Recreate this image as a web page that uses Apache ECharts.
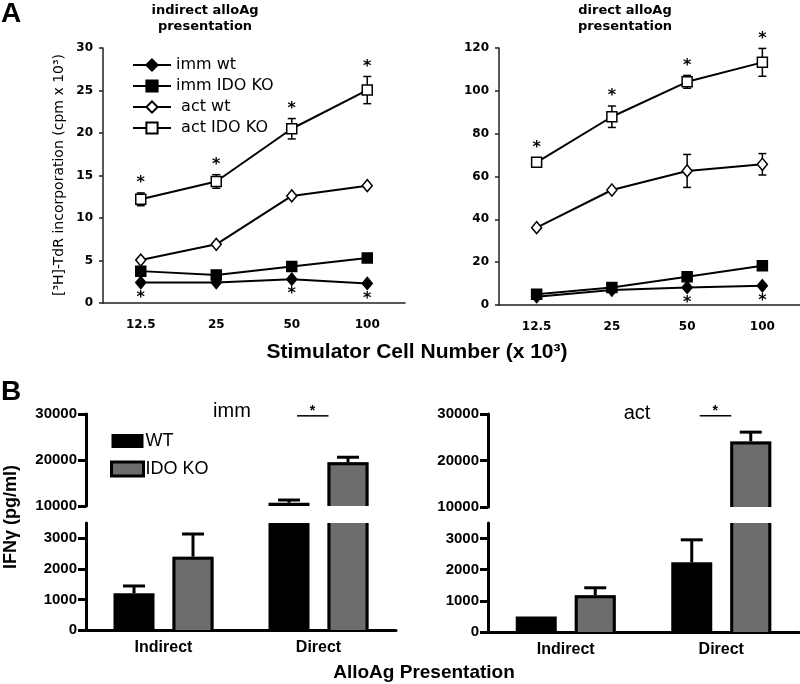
<!DOCTYPE html>
<html>
<head>
<meta charset="utf-8">
<script src="https://cdn.jsdelivr.net/npm/echarts@6.0.0/dist/echarts.min.js"></script>
<style>html,body{margin:0;padding:0;background:#fff}#c{width:800px;height:684px}</style>
</head>
<body>
<div id="c"></div>
<script>
// ---------- DATA ----------
var cellNumbers = ['12.5', '25', '50', '100'];
var seriesNames = ['imm wt', 'imm IDO KO', ' act wt', ' act IDO KO'];

// Panel A, indirect alloAg presentation (cpm x 10^3)
var indImmWt = [2.4, 2.4, 2.8, 2.3];
var indImmKO = [3.75, 3.3, 4.3, 5.3];
var indActWt = [5.05, 6.9, 12.6, 13.8];
var indActKO = [12.2, 14.3, 20.5, 25.05];
var indActKOErr = [0.75, 0.8, 1.2, 1.6];
var indStarTop = [1, 1, 1, 1];
var indStarBottom = [1, 0, 1, 1];

// Panel A, direct alloAg presentation
var dirImmWt = [3.9, 7.0, 8.2, 9.0];
var dirImmKO = [5.0, 8.2, 13.2, 18.3];
var dirActWt = [36.1, 53.7, 62.6, 65.7];
var dirActWtErr = [0, 0, 7.7, 5.0];
var dirActKO = [66.6, 87.9, 104.2, 113.3];
var dirActKOErr = [1.0, 5.0, 3.0, 6.5];
var dirStarTop = [1, 1, 1, 1];
var dirStarBottom = [0, 0, 1, 1];

// Panel B, IFN-gamma (pg/ml)
var presentation = ['Indirect', 'Direct'];
var immWT = [1200, 10700];
var immWTErr = [240, 600];
var immKO = [2400, 19500];
var immKOErr = [740, 1100];
var actWT = [500, 2240];
var actWTErr = [0, 720];
var actKO = [1180, 24100];
var actKOErr = [240, 2000];
var sigBracket = [1]; // index of category with significance bar

// ---------- HELPERS ----------
function triples(v, e) { return v.map(function (x, i) { return [i, x, e ? e[i] : 0]; }); }
function stars(v, e, flags, dir) {
  var out = [];
  flags.forEach(function (f, i) { if (f) out.push([i, v[i], e ? e[i] : 0, dir]); });
  return out;
}
var BLACK = '#000';
var GRAY = '#6d6d6d';
var SANS = '"Liberation Sans", Arial, sans-serif';
var DV = '"DejaVu Sans", Verdana, sans-serif';

function barItem(sign, fill, bordered) {
  return function (params, api) {
    var cat = api.value(0), val = api.value(1), err = api.value(2);
    var cs = params.coordSys;
    var base = api.coord([cat, 0]), top = api.coord([cat, val]);
    var bw = 41, cx = base[0] + sign * 29.5;
    var x0 = cx - bw / 2, x1 = cx + bw / 2;
    var yt = Math.max(top[1], cs.y), yb = Math.min(base[1], cs.y + cs.height);
    var kids = [];
    if (yb > yt) {
      kids.push({ type: 'rect', shape: { x: x0, y: yt, width: bw, height: yb - yt }, style: { fill: fill } });
      if (bordered) {
        var h = 1.5;
        if (top[1] >= cs.y) {
          kids.push({ type: 'polyline', shape: { points: [[x0 + h, yb], [x0 + h, yt + h], [x1 - h, yt + h], [x1 - h, yb]] },
            style: { stroke: BLACK, lineWidth: 3, fill: null } });
        } else {
          kids.push({ type: 'line', shape: { x1: x0 + h, y1: yt, x2: x0 + h, y2: yb }, style: { stroke: BLACK, lineWidth: 3 } });
          kids.push({ type: 'line', shape: { x1: x1 - h, y1: yt, x2: x1 - h, y2: yb }, style: { stroke: BLACK, lineWidth: 3 } });
        }
      }
    }
    if (err > 0 && top[1] >= cs.y && top[1] <= cs.y + cs.height) {
      var e = api.coord([cat, val + err]);
      kids.push({ type: 'line', shape: { x1: cx, y1: top[1], x2: cx, y2: e[1] }, style: { stroke: BLACK, lineWidth: 3 } });
      kids.push({ type: 'line', shape: { x1: cx - 11, y1: e[1], x2: cx + 11, y2: e[1] }, style: { stroke: BLACK, lineWidth: 3 } });
    }
    return { type: 'group', children: kids };
  };
}

function errItem(params, api) {
  var cat = api.value(0), val = api.value(1), err = api.value(2);
  if (!(err > 0)) return { type: 'group', children: [] };
  var lo = api.coord([cat, val - err]), hi = api.coord([cat, val + err]);
  var st = { stroke: BLACK, lineWidth: 1.5 };
  return { type: 'group', children: [
    { type: 'line', shape: { x1: lo[0], y1: lo[1], x2: hi[0], y2: hi[1] }, style: st },
    { type: 'line', shape: { x1: hi[0] - 4, y1: hi[1], x2: hi[0] + 4, y2: hi[1] }, style: st },
    { type: 'line', shape: { x1: lo[0] - 4, y1: lo[1], x2: lo[0] + 4, y2: lo[1] }, style: st }
  ] };
}

function starItem(params, api) {
  var cat = api.value(0), val = api.value(1), err = api.value(2), dir = api.value(3);
  var p = api.coord([cat, val]);
  var y;
  if (dir > 0) {
    var e = api.coord([cat, val + err]);
    y = Math.min(e[1], p[1] - 5) - 10;
  } else {
    y = p[1] + 15;
  }
  return { type: 'text', x: p[0], y: y,
    style: { text: '*', fill: BLACK, font: 'bold 16px ' + DV, align: 'center', verticalAlign: 'middle' } };
}

function sigItem(params, api) {
  var cat = api.value(0), val = api.value(1);
  var p = api.coord([cat, val]);
  return { type: 'group', children: [
    { type: 'line', shape: { x1: p[0] - 21.5, y1: p[1], x2: p[0] + 10, y2: p[1] }, style: { stroke: BLACK, lineWidth: 1.5 } },
    { type: 'text', x: p[0] - 6, y: p[1] - 5, style: { text: '*', fill: BLACK, font: 'bold 14px ' + SANS, align: 'center', verticalAlign: 'middle' } }
  ] };
}

// ---------- AXES ----------
function topX(gi) {
  return { type: 'category', gridIndex: gi, data: cellNumbers, boundaryGap: true,
    axisLine: { lineStyle: { color: '#222', width: 1.5 } },
    axisTick: { length: 4, lineStyle: { color: '#222', width: 1.5 } },
    axisLabel: { color: BLACK, fontFamily: DV, fontWeight: 'bold', fontSize: 12, margin: 16 } };
}
function topY(gi, max, interval) {
  return { type: 'value', gridIndex: gi, min: 0, max: max, interval: interval,
    axisLine: { show: true, lineStyle: { color: '#222', width: 1.5 } },
    axisTick: { show: true, length: 4, lineStyle: { color: '#222', width: 1.5 } },
    splitLine: { show: false },
    axisLabel: { color: BLACK, fontFamily: DV, fontWeight: 'bold', fontSize: 12, margin: 10 } };
}
function botX(gi, show) {
  return { type: 'category', gridIndex: gi, data: presentation, boundaryGap: true, show: show,
    axisLine: { lineStyle: { color: BLACK, width: 3 } },
    axisTick: { alignWithLabel: true, length: 7, lineStyle: { color: BLACK, width: 3 } },
    axisLabel: { color: BLACK, fontFamily: SANS, fontWeight: 'bold', fontSize: 16, margin: 10 } };
}
function botY(gi, min, max, interval) {
  return { type: 'value', gridIndex: gi, min: min, max: max, interval: interval,
    axisLine: { show: true, lineStyle: { color: BLACK, width: 3 } },
    axisTick: { show: true, length: 8, lineStyle: { color: BLACK, width: 3 } },
    splitLine: { show: false },
    axisLabel: { color: BLACK, fontFamily: SANS, fontWeight: 'bold', fontSize: 15, margin: 9,
      showMaxLabel: max !== 3500, formatter: function (v) { return String(v); } } };
}

function lineSeries(name, data, xi, symbol, size, fill) {
  return { type: 'line', name: name, data: data, xAxisIndex: xi, yAxisIndex: xi,
    symbol: symbol, symbolSize: size, showAllSymbol: true, z: 5,
    lineStyle: { color: BLACK, width: 2 },
    itemStyle: { color: fill, borderColor: BLACK, borderWidth: 1.5 },
    emphasis: { disabled: true } };
}
function custom(name, xi, data, fn, z) {
  return { type: 'custom', name: name, xAxisIndex: xi, yAxisIndex: xi, data: data, renderItem: fn,
    encode: { x: 0, y: 1 }, z: z || 3, silent: true };
}

var option = {
  animation: false,
  backgroundColor: '#fff',
  grid: [
    { left: 103, top: 48, width: 302, height: 255 },
    { left: 499, top: 48, width: 301, height: 257 },
    { left: 86, top: 414, width: 310, height: 92 },
    { left: 86, top: 523, width: 310, height: 107 },
    { left: 488, top: 414, width: 311, height: 93 },
    { left: 488, top: 523, width: 311, height: 109 }
  ],
  xAxis: [topX(0), topX(1), botX(2, false), botX(3, true), botX(4, false), botX(5, true)],
  yAxis: [topY(0, 30, 5), topY(1, 120, 20),
    botY(2, 10000, 30000, 10000), botY(3, 0, 3500, 1000),
    botY(4, 10000, 30000, 10000), botY(5, 0, 3500, 1000)],
  legend: [
    { left: 127, top: 52, orient: 'vertical', itemWidth: 38, itemHeight: 14, itemGap: 5,
      selectedMode: false, data: seriesNames,
      textStyle: { fontFamily: DV, fontSize: 16, color: BLACK } },
    { left: 105, top: 427, orient: 'vertical', itemWidth: 32, itemHeight: 14, itemGap: 10,
      selectedMode: false, icon: 'rect',
      data: [{ name: 'WT', itemStyle: { color: BLACK } },
             { name: 'IDO KO', itemStyle: { color: GRAY, borderColor: BLACK, borderWidth: 3 } }],
      textStyle: { fontFamily: SANS, fontSize: 18, color: BLACK, padding: [0, 0, 0, -3] } }
  ],
  series: [
    lineSeries(seriesNames[0], indImmWt, 0, 'diamond', [10, 12], BLACK),
    lineSeries(seriesNames[1], indImmKO, 0, 'rect', 10, BLACK),
    lineSeries(seriesNames[2], indActWt, 0, 'diamond', [10, 12], '#fff'),
    lineSeries(seriesNames[3], indActKO, 0, 'rect', 10, '#fff'),
    lineSeries(seriesNames[0], dirImmWt, 1, 'diamond', [10, 12], BLACK),
    lineSeries(seriesNames[1], dirImmKO, 1, 'rect', 10, BLACK),
    lineSeries(seriesNames[2], dirActWt, 1, 'diamond', [10, 12], '#fff'),
    lineSeries(seriesNames[3], dirActKO, 1, 'rect', 10, '#fff'),
    custom('errA1', 0, triples(indActKO, indActKOErr), errItem, 3),
    custom('errA2', 1, triples(dirActKO, dirActKOErr), errItem, 3),
    custom('errA3', 1, triples(dirActWt, dirActWtErr), errItem, 3),
    custom('starA1', 0, stars(indActKO, indActKOErr, indStarTop, 1), starItem, 6),
    custom('starA2', 0, stars(indImmWt, null, indStarBottom, -1), starItem, 6),
    custom('starA3', 1, stars(dirActKO, dirActKOErr, dirStarTop, 1), starItem, 6),
    custom('starA4', 1, stars(dirImmWt, null, dirStarBottom, -1), starItem, 6),
    // Panel B imm
    Object.assign(custom('WT', 2, triples(immWT, immWTErr), barItem(-1, BLACK, false)), { itemStyle: { color: BLACK } }),
    Object.assign(custom('IDO KO', 2, triples(immKO, immKOErr), barItem(1, GRAY, true)), { itemStyle: { color: GRAY } }),
    Object.assign(custom('WT', 3, triples(immWT, immWTErr), barItem(-1, BLACK, false)), { itemStyle: { color: BLACK } }),
    Object.assign(custom('IDO KO', 3, triples(immKO, immKOErr), barItem(1, GRAY, true)), { itemStyle: { color: GRAY } }),
    // Panel B act
    Object.assign(custom('WT', 4, triples(actWT, actWTErr), barItem(-1, BLACK, false)), { itemStyle: { color: BLACK } }),
    Object.assign(custom('IDO KO', 4, triples(actKO, actKOErr), barItem(1, GRAY, true)), { itemStyle: { color: GRAY } }),
    Object.assign(custom('WT', 5, triples(actWT, actWTErr), barItem(-1, BLACK, false)), { itemStyle: { color: BLACK } }),
    Object.assign(custom('IDO KO', 5, triples(actKO, actKOErr), barItem(1, GRAY, true)), { itemStyle: { color: GRAY } }),
    custom('sig1', 2, sigBracket.map(function (i) { return [i, 29600]; }), sigItem, 6),
    custom('sig2', 4, sigBracket.map(function (i) { return [i, 29600]; }), sigItem, 6)
  ],
  graphic: [
    { type: 'text', left: 1, top: 0, style: { text: 'A', font: 'bold 28px ' + SANS, fill: BLACK } },
    { type: 'text', left: 1, top: 378, style: { text: 'B', font: 'bold 28px ' + SANS, fill: BLACK } },
    { type: 'text', x: 205, y: 3, style: { text: 'indirect alloAg\npresentation', font: 'bold 13px ' + DV, lineHeight: 16, align: 'center', fill: BLACK } },
    { type: 'text', x: 625, y: 3, style: { text: 'direct alloAg\npresentation', font: 'bold 13px ' + DV, lineHeight: 16, align: 'center', fill: BLACK } },
    { type: 'text', x: 59, y: 175, rotation: Math.PI / 2, style: { text: '[³H]-TdR incorporation (cpm x 10³)', font: '14px ' + DV, align: 'center', verticalAlign: 'middle', fill: BLACK } },
    { type: 'text', x: 417, y: 352, style: { text: 'Stimulator Cell Number (x 10³)', font: 'bold 21px ' + SANS, align: 'center', verticalAlign: 'middle', fill: BLACK } },
    { type: 'text', x: 232, y: 411, style: { text: 'imm', font: '20px ' + SANS, align: 'center', verticalAlign: 'middle', fill: BLACK } },
    { type: 'text', x: 637, y: 413, style: { text: 'act', font: '20px ' + SANS, align: 'center', verticalAlign: 'middle', fill: BLACK } },
    { type: 'text', x: 11, y: 517, rotation: Math.PI / 2, style: { text: 'IFNγ (pg/ml)', font: 'bold 18px ' + SANS, align: 'center', verticalAlign: 'middle', fill: BLACK } },
    { type: 'text', x: 424, y: 673, style: { text: 'AlloAg Presentation', font: 'bold 19px ' + SANS, align: 'center', verticalAlign: 'middle', fill: BLACK } }
  ]
};

var chart = echarts.init(document.getElementById('c'), null, { renderer: 'canvas' });
chart.setOption(option);
</script>
</body>
</html>
